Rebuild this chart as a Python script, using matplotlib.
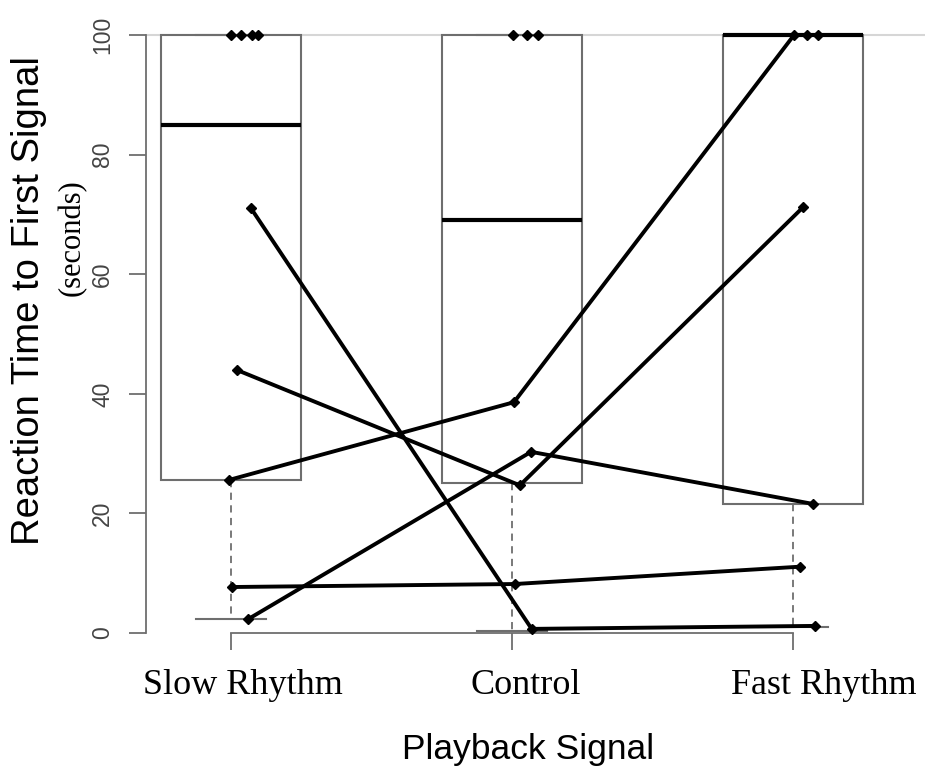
import numpy as np
import matplotlib.pyplot as plt

# ---------------- data ----------------
groups = ["Slow Rhythm", "Control", "Fast Rhythm"]
positions = [1, 2, 3]

# box summaries (seconds)
box_q1 = [25.6, 25.1, 21.6]
box_med = [85.0, 69.0, 100.0]
box_q3 = [100.0, 100.0, 100.0]
box_lo = [2.3, 0.4, 1.0]
box_hi = [100.0, 100.0, 100.0]

# individual animals, one line each (slow, control, fast)
ind_slow = [71.1, 44.0, 25.6, 2.3, 7.7]
ind_control = [0.7, 24.7, 38.6, 30.3, 8.2]
ind_fast = [1.2, 71.2, 100.0, 21.6, 11.1]
# horizontal jitter of each point
jit_slow = [0.07, 0.02, -0.007, 0.06, 0.004]
jit_control = [0.07, 0.028, 0.007, 0.068, 0.01]
jit_fast = [0.08, 0.036, 0.004, 0.07, 0.025]

# animals that never answered (100 s), jitter only
top_slow = [0.0, 0.035, 0.075, 0.095]
top_control = [0.004, 0.053, 0.093]
top_fast = [0.05, 0.089]

# label offsets as drawn in the original
label_shift = [0.043, 0.05, 0.11]

W, H = 925, 773
fig = plt.figure(figsize=(W / 100, H / 100), dpi=100)
ax = fig.add_axes([146 / W, (H - 657) / H, 779 / W, 646 / H])
ax.set_xlim(0.6975, 3.4698)
ax.set_ylim(-4, 104)

gray = "#6e6e6e"
ax.axhline(100, color="#d6d6d6", lw=1.5, zorder=0)

stats = []
for i in range(3):
    stats.append(dict(med=box_med[i], q1=box_q1[i], q3=box_q3[i],
                      whislo=box_lo[i], whishi=box_hi[i], fliers=[]))
ax.bxp(stats, positions=positions, widths=0.5, capwidths=0.25,
       showfliers=False, patch_artist=True,
       boxprops=dict(facecolor="white", edgecolor=gray, lw=1.5),
       medianprops=dict(color="black", lw=3, solid_capstyle="butt"),
       whiskerprops=dict(color=gray, lw=1.3, linestyle=(0, (4, 3))),
       capprops=dict(color=gray, lw=1.5), zorder=1)

for k in range(len(ind_slow)):
    xs = [positions[0] + jit_slow[k], positions[1] + jit_control[k],
          positions[2] + jit_fast[k]]
    ys = [ind_slow[k], ind_control[k], ind_fast[k]]
    ax.plot(xs, ys, color="black", lw=2.8, marker="D", ms=5.5,
            solid_capstyle="round", zorder=3)

for pos, jit in zip(positions, [top_slow, top_control, top_fast]):
    ax.plot(pos + np.array(jit), [100] * len(jit), ls="none", marker="D",
            ms=5.5, color="black", zorder=3)

# axes styling (R-like)
for s in ["top", "right"]:
    ax.spines[s].set_visible(False)
ax.spines["left"].set_bounds(0, 100)
ax.spines["left"].set_color(gray)
ax.spines["left"].set_linewidth(1.3)
ax.spines["bottom"].set_position(("data", 0))
ax.spines["bottom"].set_bounds(1, 3)
ax.spines["bottom"].set_color(gray)
ax.spines["bottom"].set_linewidth(1.3)

ax.set_yticks([0, 20, 40, 60, 80, 100])
ax.tick_params(axis="y", length=12, width=1.3, color=gray, pad=11,
               labelsize=16.5, labelcolor="#444444")
for t in ax.get_yticklabels():
    t.set_rotation(90)
    t.set_va("center")
    t.set_family("Liberation Sans")

ax.set_xticks(positions)
ax.set_xticklabels([])
ax.tick_params(axis="x", length=12, width=1.3, color=gray)
for pos, name, sh in zip(positions, groups, label_shift):
    ax.text(pos + sh, -6.0, name, ha="center", va="top", fontsize=26,
            family="Liberation Serif", transform=ax.transData)

fig.text(29 / W, 1 - 301 / H, "Reaction Time to First Signal", rotation=90,
         ha="center", va="center", fontsize=27.5, family="Liberation Sans")
fig.text(72 / W, 1 - 238 / H, "(seconds)", rotation=90, ha="center",
         va="center", fontsize=22, family="Liberation Serif")
fig.text(528 / W, 1 - 750 / H, "Playback Signal", ha="center", va="center",
         fontsize=25.5, family="Liberation Sans")

fig.savefig("out.png", dpi=100)
